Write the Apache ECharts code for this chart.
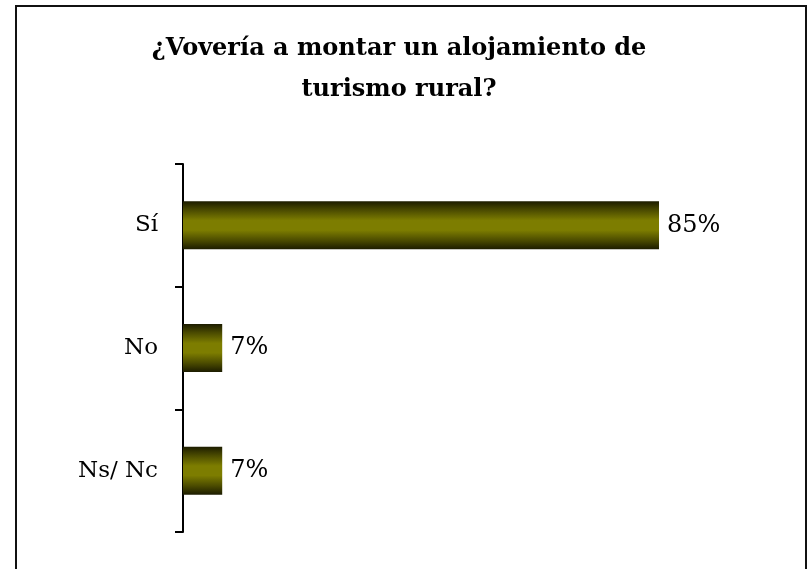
<!DOCTYPE html>
<html>
<head>
<meta charset="utf-8">
<script src="https://cdn.jsdelivr.net/npm/echarts@6/dist/echarts.min.js"></script>
<style>
  html, body { margin: 0; padding: 0; background: #fff; }
  #chart { width: 811px; height: 569px; }
</style>
</head>
<body>
<div id="chart"></div>
<script>
// Survey answers, top to bottom
const categories = ['Sí', 'No', 'Ns/ Nc'];
const shares = [85, 7, 7];
const titleText = '¿Vovería a montar un alojamiento de\nturismo rural?';

const serif = '"DejaVu Serif", serif';

// Olive bars with a cylindrical shading: dark edges, bright middle
const barFill = new echarts.graphic.LinearGradient(0, 0, 0, 1, [
  { offset: 0, color: '#1c1c00' },
  { offset: 0.18, color: '#4a4a00' },
  { offset: 0.4, color: '#7d7d00' },
  { offset: 0.6, color: '#7d7d00' },
  { offset: 0.82, color: '#4a4a00' },
  { offset: 1, color: '#1c1c00' }
]);

const chart = echarts.init(document.getElementById('chart'), null, { renderer: 'canvas' });

chart.setOption({
  animation: false,
  backgroundColor: '#fff',
  title: {
    text: titleText,
    left: 394,
    top: 23,
    textAlign: 'center',
    textStyle: {
      fontFamily: serif,
      fontWeight: 'bold',
      fontSize: 24,
      lineHeight: 41,
      color: '#000'
    }
  },
  graphic: [{
    type: 'rect',
    shape: { x: 16, y: 6, width: 790, height: 620 },
    style: { fill: 'none', stroke: '#111', lineWidth: 2 },
    silent: true
  }],
  grid: { left: 183, right: 68, top: 164, bottom: 37 },
  xAxis: {
    type: 'value',
    min: 0,
    max: 100,
    show: false
  },
  yAxis: {
    type: 'category',
    data: categories,
    inverse: true,
    axisLine: { show: true, lineStyle: { color: '#000', width: 2 } },
    axisTick: { show: true, length: 8, lineStyle: { color: '#000', width: 2 } },
    axisLabel: {
      margin: 25,
      fontFamily: serif,
      fontSize: 23,
      color: '#000'
    },
    splitLine: { show: false }
  },
  series: [{
    type: 'bar',
    data: shares,
    barWidth: 48,
    itemStyle: { color: barFill },
    label: {
      show: true,
      position: 'right',
      distance: 8,
      formatter: p => p.value + '%',
      fontFamily: serif,
      fontSize: 24,
      color: '#000'
    }
  }]
});
</script>
</body>
</html>
